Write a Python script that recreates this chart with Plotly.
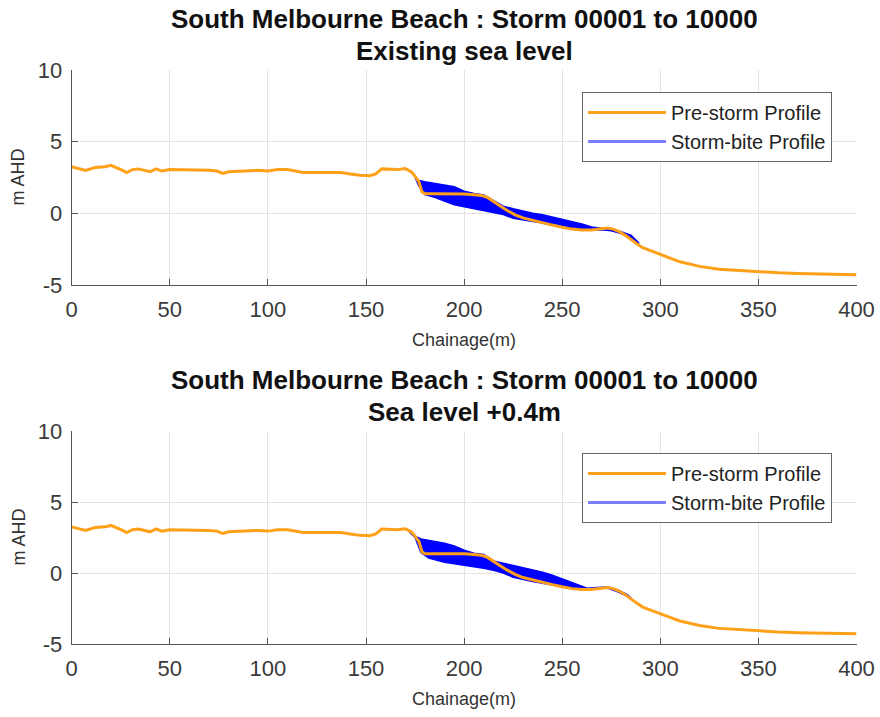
import plotly.graph_objects as go

# ---------------- data ----------------
chainage = [0, 3, 7, 12, 17, 20, 23, 26, 28, 31, 34, 37, 40, 43, 46, 50, 55, 60, 65, 70,
            74, 77, 80, 85, 90, 95, 100, 105, 110, 115, 118, 122, 130, 137, 142, 147, 152,
            155, 158, 162, 166, 170, 173, 175, 177, 178.5, 180, 185, 190, 195, 200, 205,
            209, 212, 215, 218, 222, 226, 230, 235, 240, 245, 250, 255, 260, 265, 270, 273,
            276, 279, 282, 285, 288, 291, 295, 300, 305, 310, 315, 320, 330, 340, 350, 360,
            370, 380, 390, 400]
pre_storm = [3.25, 3.15, 3.0, 3.2, 3.25, 3.35, 3.2, 3.0, 2.85, 3.05, 3.1, 3.0, 2.9, 3.1, 2.95,
             3.05, 3.05, 3.05, 3.05, 3.0, 2.95, 2.78, 2.9, 2.95, 3.0, 3.0, 2.95, 3.05, 3.05,
             2.95, 2.85, 2.85, 2.85, 2.85, 2.75, 2.65, 2.62, 2.75, 3.1, 3.05, 3.05, 3.12, 2.9,
             2.6, 2.2, 1.5, 1.36, 1.36, 1.36, 1.36, 1.35, 1.3, 1.25, 1.1, 0.85, 0.55, 0.2,
             -0.1, -0.32, -0.5, -0.66, -0.82, -0.97, -1.1, -1.16, -1.16, -1.08, -1.03, -1.1,
             -1.27, -1.52, -1.85, -2.12, -2.4, -2.62, -2.85, -3.12, -3.38, -3.55, -3.7, -3.9,
             -4.0, -4.08, -4.15, -4.2, -4.22, -4.25, -4.28]

# storm-bite envelope (existing sea level)
bite1_x = [175, 177, 180, 185, 190, 195, 200, 205, 210, 215, 220, 225, 230, 235, 240, 245,
           250, 255, 260, 265, 270, 275, 280, 285, 289]
bite1_upper = [2.5, 2.3, 2.2, 2.1, 2.0, 1.85, 1.55, 1.38, 1.28, 0.9, 0.5, 0.32, 0.15, 0.0,
               -0.1, -0.25, -0.4, -0.55, -0.75, -0.95, -1.02, -1.12, -1.28, -1.52, -2.05]
bite1_lower = [2.5, 1.9, 1.3, 1.12, 0.85, 0.6, 0.45, 0.35, 0.2, 0.05, -0.08, -0.35, -0.45,
               -0.57, -0.68, -0.84, -0.98, -1.1, -1.18, -1.18, -1.14, -1.22, -1.4, -1.75, -2.1]

# storm-bite envelope (sea level +0.4 m)
bite2_x = [172, 175, 178, 182, 186, 190, 195, 200, 205, 210, 215, 220, 225, 230, 235, 240,
           245, 250, 255, 260, 263, 268, 273, 278, 283, 285]
bite2_upper = [2.9, 2.6, 2.4, 2.3, 2.2, 2.1, 1.9, 1.6, 1.4, 1.3, 0.85, 0.7, 0.55, 0.4, 0.25,
               0.05, -0.15, -0.4, -0.65, -0.9, -1.08, -1.02, -0.98, -1.18, -1.5, -1.75]
bite2_lower = [2.9, 2.5, 1.45, 1.05, 0.9, 0.75, 0.65, 0.55, 0.45, 0.33, 0.2, 0.0, -0.3,
               -0.45, -0.6, -0.72, -0.86, -0.99, -1.1, -1.16, -1.16, -1.07, -1.06, -1.3,
               -1.62, -1.8]

titles = [("South Melbourne Beach : Storm 00001 to 10000", "Existing sea level"),
          ("South Melbourne Beach : Storm 00001 to 10000", "Sea level +0.4m")]
x_ticks = [0, 50, 100, 150, 200, 250, 300, 350, 400]
y_ticks = [-5, 0, 5, 10]

# ---------------- layout helpers ----------------
W, H = 880, 717
ORANGE = "rgb(255,160,25)"
BLUE = "rgb(0,0,255)"
FONT = "Liberation Sans, Arial, sans-serif"
px_x0, px_x1 = 71.7, 856.5
panels = [(70, 285), (431, 644)]  # pixel top/bottom of each plot area

fig = go.Figure()

bites = [(bite1_x, bite1_upper, bite1_lower), (bite2_x, bite2_upper, bite2_lower)]
for i, (bx, bu, bl) in enumerate(bites):
    xa = "x" if i == 0 else "x2"
    ya = "y" if i == 0 else "y2"
    lg = "legend" if i == 0 else "legend2"
    fig.add_trace(go.Scatter(x=bx + bx[::-1], y=bu + bl[::-1], xaxis=xa, yaxis=ya,
                             mode="lines", fill="toself", fillcolor=BLUE,
                             line=dict(color=BLUE, width=1.5), showlegend=False,
                             hoverinfo="skip"))
    fig.add_trace(go.Scatter(x=chainage, y=pre_storm, xaxis=xa, yaxis=ya, mode="lines",
                             line=dict(color=ORANGE, width=3), name="Pre-storm Profile",
                             legend=lg, legendrank=1, legendgroup="a%d" % i))
    fig.add_trace(go.Scatter(x=[None], y=[None], xaxis=xa, yaxis=ya, mode="lines",
                             line=dict(color="rgb(125,125,255)", width=3),
                             name="Storm-bite Profile", legend=lg, legendrank=2,
                             legendgroup="b%d" % i))

axis_common = dict(showline=True, linecolor="#555555", linewidth=1, mirror=False,
                   ticks="inside", ticklen=6, tickcolor="#555555", automargin=False,
                   showgrid=True, gridcolor="#e3e3e3", gridwidth=1, zeroline=False,
                   tickfont=dict(family=FONT, size=22, color="#3a3a3a"))

annotations = []
for i, (top, bot) in enumerate(panels):
    dom_y = [1 - bot / H, 1 - top / H]
    sfx = "" if i == 0 else "2"
    fig.update_layout(**{
        "xaxis" + sfx: dict(domain=[px_x0 / W, px_x1 / W], range=[0, 400], tickvals=x_ticks,
                            ticktext=[str(v) for v in x_ticks],
                            anchor="y" + sfx, ticklabelstandoff=5, **axis_common),
        "yaxis" + sfx: dict(domain=dom_y, range=[-5, 10], tickvals=y_ticks,
                            ticktext=[str(v) for v in y_ticks],
                            anchor="x" + sfx, ticklabelstandoff=4, **axis_common),
    })
    cx = (px_x0 + px_x1) / 2 / W
    annotations += [
        dict(text="<b>%s</b>" % titles[i][0], x=cx, y=1 - (top - 51) / H, xref="paper",
             yref="paper", showarrow=False, font=dict(family=FONT, size=26, color="#111"),
             xanchor="center", yanchor="middle"),
        dict(text="<b>%s</b>" % titles[i][1], x=cx, y=1 - (top - 19) / H, xref="paper",
             yref="paper", showarrow=False, font=dict(family=FONT, size=26, color="#111"),
             xanchor="center", yanchor="middle"),
        dict(text="Chainage(m)", x=cx, y=1 - (bot + 55) / H, xref="paper", yref="paper",
             showarrow=False, font=dict(family=FONT, size=18, color="#333"),
             xanchor="center", yanchor="middle"),
        dict(text="m AHD", x=18 / W, y=1 - ((top + bot) / 2) / H, xref="paper",
             yref="paper", showarrow=False, textangle=-90,
             font=dict(family=FONT, size=18, color="#333"),
             xanchor="center", yanchor="middle"),
    ]
    leg = dict(x=832 / W, y=1 - (top + 22) / H, xanchor="right", yanchor="top",
               bgcolor="white", bordercolor="#666666", borderwidth=1,
               font=dict(family=FONT, size=20, color="#222"), itemwidth=78,
               tracegroupgap=0, traceorder="grouped")
    fig.update_layout(**{("legend" if i == 0 else "legend2"): leg})

fig.update_layout(width=W, height=H, autosize=False,
                  margin=dict(l=0, r=0, t=0, b=0, autoexpand=False),
                  paper_bgcolor="white", plot_bgcolor="white", annotations=annotations,
                  showlegend=True)

fig.write_html("out.html")
